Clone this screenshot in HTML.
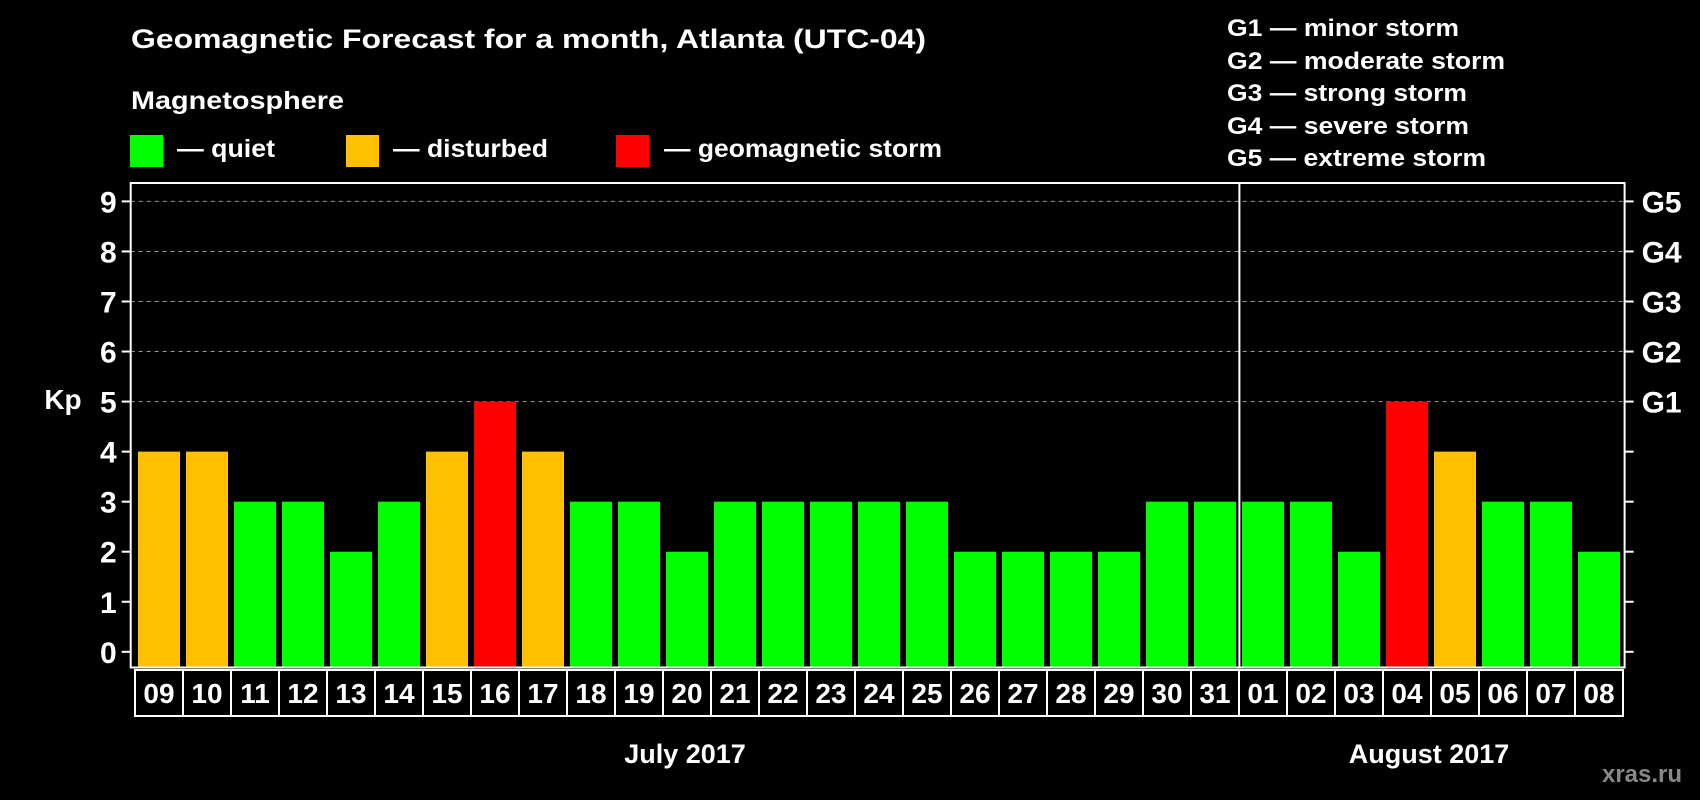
<!DOCTYPE html>
<html><head><meta charset="utf-8"><style>
html,body{margin:0;padding:0;background:#000;}
svg{display:block;font-family:"Liberation Sans",sans-serif;font-weight:bold;}
</style></head><body>
<svg id="chart" width="1700" height="800" viewBox="0 0 1700 800" xmlns="http://www.w3.org/2000/svg">
<rect width="1700" height="800" fill="#000"/>
<text x="131" y="48" fill="#fff" font-size="27" textLength="795" lengthAdjust="spacingAndGlyphs">Geomagnetic Forecast for a month, Atlanta (UTC-04)</text>
<text x="131" y="109" fill="#fff" font-size="25" textLength="213" lengthAdjust="spacingAndGlyphs">Magnetosphere</text>
<g>
<rect x="130" y="135" width="33" height="32" fill="#00ff00"/>
<text x="177" y="157" fill="#fff" font-size="25" textLength="98" lengthAdjust="spacingAndGlyphs">— quiet</text></g>
<g>
<rect x="346" y="135" width="33" height="32" fill="#ffc000"/>
<text x="393" y="157" fill="#fff" font-size="25" textLength="155" lengthAdjust="spacingAndGlyphs">— disturbed</text></g>
<g>
<rect x="616" y="135" width="33" height="32" fill="#ff0000"/>
<text x="664" y="157" fill="#fff" font-size="25" textLength="278" lengthAdjust="spacingAndGlyphs">— geomagnetic storm</text></g>
<g fill="#fff" font-size="24">
<text x="1227" y="36" textLength="232" lengthAdjust="spacingAndGlyphs">G1 — minor storm</text>
<text x="1227" y="69" textLength="278" lengthAdjust="spacingAndGlyphs">G2 — moderate storm</text>
<text x="1227" y="101" textLength="240" lengthAdjust="spacingAndGlyphs">G3 — strong storm</text>
<text x="1227" y="134" textLength="242" lengthAdjust="spacingAndGlyphs">G4 — severe storm</text>
<text x="1227" y="166" textLength="259" lengthAdjust="spacingAndGlyphs">G5 — extreme storm</text>
</g>
<text x="63" y="409" fill="#fff" font-size="28" text-anchor="middle">Kp</text>
<g id="grid"></g>
<g id="bars"></g>
<g id="axes"></g>
<text x="685" y="763" fill="#fff" font-size="27" text-anchor="middle">July 2017</text>
<text x="1429" y="763" fill="#fff" font-size="27" text-anchor="middle">August 2017</text>
<text x="1642" y="782" fill="#888" font-size="24" text-anchor="middle">xras.ru</text>
</svg>
<script>
const days = ["09","10","11","12","13","14","15","16","17","18","19","20","21","22","23","24","25","26","27","28","29","30","31","01","02","03","04","05","06","07","08"];
const kp = [4,4,3,3,2,3,4,5,4,3,3,2,3,3,3,3,3,2,2,2,2,3,3,3,3,2,5,4,3,3,2];
const yTicks = [0,1,2,3,4,5,6,7,8,9];
const gLabels = ["G1","G2","G3","G4","G5"];
const julyCount = 23;

const NS="http://www.w3.org/2000/svg";
const L=130.7, R=1624.6, T=183, B=667.5, D=1239.4;
const y0=651.8, unit=(651.8-201.4)/9;
const cellW=48;
function yScale(v){return y0 - v*unit;}
function boxX(i){ return i<julyCount ? 135+i*cellW : 1239+(i-julyCount)*cellW; }
function colorFor(v){return v>=5?"#ff0000":(v>=4?"#ffc000":"#00ff00");}
function mk(tag,attrs,parent){const e=document.createElementNS(NS,tag);for(const k in attrs)e.setAttribute(k,attrs[k]);parent.appendChild(e);return e;}

const grid=document.getElementById('grid'), bars=document.getElementById('bars'), axes=document.getElementById('axes');
yTicks.forEach(t=>{
  const y=yScale(t);
  if(t>=5){const gl=mk('line',{x1:L,x2:R,y1:y,y2:y,stroke:'#999','stroke-width':1,'stroke-dasharray':'4,4'},grid);
    
    }
  const tk=mk('line',{x1:L-9,x2:L,y1:y,y2:y,stroke:'#fff','stroke-width':2},axes);
  
  
  const lb=mk('text',{x:L-14,y:y+11,fill:'#fff','font-size':30,'text-anchor':'end'},axes);
  lb.textContent=t;
  
  
  const rt=mk('line',{x1:R,x2:R+9,y1:y,y2:y,stroke:'#fff','stroke-width':2},axes);
  
  
  if(t>=5){const g=mk('text',{x:R+17,y:y+11,fill:'#fff','font-size':30},axes);
    g.textContent=gLabels[t-5];
    
    }
});
days.forEach((d,i)=>{
  const x=boxX(i);
  const top=yScale(kp[i]);
  const b=mk('rect',{x:x+3,y:top,width:42,height:B-1-top,fill:colorFor(kp[i])},bars);
  
  
  const bx=mk('rect',{x:x,y:670,width:cellW,height:46,fill:'none',stroke:'#fff','stroke-width':2},axes);
  
  
  const tx=mk('text',{x:x+cellW/2,y:703,fill:'#fff','font-size':28,'text-anchor':'middle'},axes);
  tx.textContent=d;
  
  
});
const fr=mk('rect',{x:L,y:T,width:R-L,height:B-T,fill:'none',stroke:'#fff','stroke-width':2},axes);


const dv=mk('line',{x1:D,x2:D,y1:T,y2:B,stroke:'#fff','stroke-width':2},axes);


</script>
</body></html>
